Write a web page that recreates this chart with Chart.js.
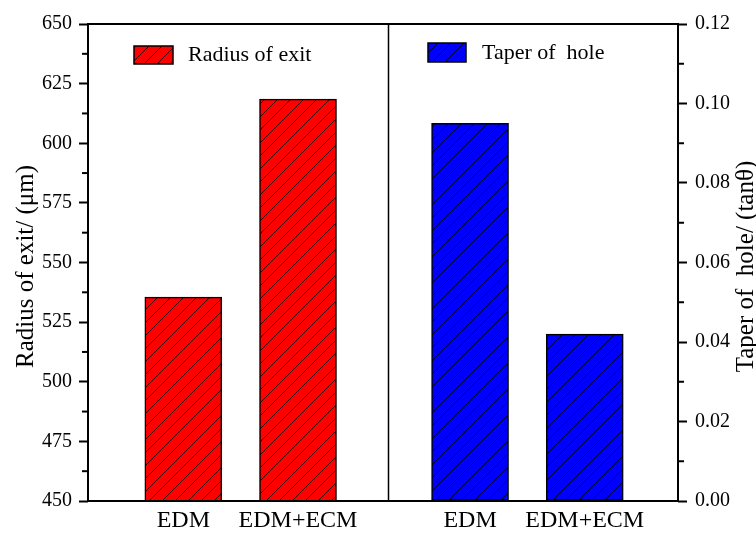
<!DOCTYPE html>
<html>
<head>
<meta charset="utf-8">
<script src="https://cdn.jsdelivr.net/npm/chart.js@4"></script>
<style>
  html, body { margin: 0; padding: 0; background: #fff; }
  #wrap { width: 756px; height: 534px; }
</style>
</head>
<body>
<div id="wrap"><canvas id="c" width="756" height="534"></canvas></div>
<script>
// Machining methods compared in each group
const methods = ['EDM', 'EDM+ECM'];
// Exit radius of the hole, μm
const radiusOfExit = [535.5, 618.5];
// Hole taper, tanθ
const taperOfHole = [0.095, 0.042];
// Axis tick values
const radiusTicks = [450, 475, 500, 525, 550, 575, 600, 625, 650];
const taperTicks = [0, 0.02, 0.04, 0.06, 0.08, 0.10, 0.12];
// Series names and axis titles
const seriesNames = ['Radius of exit', 'Taper of  hole'];
const axisTitles = ['Radius of exit/ (μm)', 'Taper of  hole/ (tanθ)'];

const SERIF = '"Liberation Serif", "Times New Roman", serif';
const INK = '#000';

// x position of bar i inside group g (groups separated by a wider gap)
const slot = (g, i) => 1 + g * 2.5 + i;
const xPositions = [slot(0, 0), slot(0, 1), slot(1, 0), slot(1, 1)];
const xLabels = [...methods, ...methods];
const dividerAt = 2.785;

function hatch(color) {
  const s = 13;
  const c = document.createElement('canvas');
  c.width = s; c.height = s;
  const g = c.getContext('2d');
  g.fillStyle = color;
  g.fillRect(0, 0, s, s);
  g.strokeStyle = 'rgba(0,0,0,0.85)';
  g.lineWidth = 0.9;
  g.beginPath();
  g.moveTo(-1, s + 1); g.lineTo(s + 1, -1);
  g.moveTo(-1, 1); g.lineTo(1, -1);
  g.moveTo(s - 1, s + 1); g.lineTo(s + 1, s - 1);
  g.stroke();
  return g.createPattern(c, 'repeat');
}

const redFill = hatch('#ff0000');
const blueFill = hatch('#0000ff');

// Frame, divider, minor ticks, legend entries and axis titles
const decor = {
  id: 'decor',
  afterDatasetsDraw(chart) {
    const ctx = chart.ctx;
    const a = chart.chartArea;
    const x = chart.scales.x;
    ctx.save();
    ctx.strokeStyle = INK;
    // divider between the two groups
    ctx.lineWidth = 1.5;
    const dx = Math.round(x.getPixelForValue(dividerAt)) + 0.5;
    ctx.beginPath();
    ctx.moveTo(dx, a.top); ctx.lineTo(dx, a.bottom);
    ctx.stroke();
    // frame
    ctx.lineWidth = 2;
    ctx.strokeRect(a.left, a.top, a.right - a.left, a.bottom - a.top);
    // minor ticks halfway between major ticks
    ctx.lineWidth = 2;
    const minor = (scale, vals, side) => {
      for (let i = 0; i < vals.length - 1; i++) {
        const y = scale.getPixelForValue((vals[i] + vals[i + 1]) / 2);
        ctx.beginPath();
        if (side === 'left') { ctx.moveTo(a.left, y); ctx.lineTo(a.left - 6, y); }
        else { ctx.moveTo(a.right, y); ctx.lineTo(a.right + 6, y); }
        ctx.stroke();
      }
    };
    minor(chart.scales.yL, radiusTicks, 'left');
    minor(chart.scales.yR, taperTicks, 'right');

    // legend entries
    const entries = [
      { box: [134, 46, 39, 18], text: [188, 55], ds: 0 },
      { box: [428, 43, 38, 19], text: [482, 53], ds: 1 }
    ];
    ctx.font = '22px ' + SERIF;
    ctx.textBaseline = 'middle';
    ctx.textAlign = 'left';
    entries.forEach(e => {
      const ds = chart.data.datasets[e.ds];
      ctx.fillStyle = ds.backgroundColor;
      ctx.fillRect(e.box[0], e.box[1], e.box[2], e.box[3]);
      ctx.lineWidth = 1.5;
      ctx.strokeStyle = INK;
      ctx.strokeRect(e.box[0], e.box[1], e.box[2], e.box[3]);
      ctx.fillStyle = INK;
      ctx.fillText(ds.label, e.text[0], e.text[1]);
    });

    // axis titles, both read bottom to top
    ctx.font = '25px ' + SERIF;
    ctx.textAlign = 'center';
    const midY = (a.top + a.bottom) / 2 + 4;
    [[26, axisTitles[0]], [746, axisTitles[1]]].forEach(([tx, t]) => {
      ctx.save();
      ctx.translate(tx, midY);
      ctx.rotate(-Math.PI / 2);
      ctx.fillText(t, 0, 0);
      ctx.restore();
    });
    ctx.restore();
  }
};

const tickFont = { family: SERIF, size: 20 };

new Chart(document.getElementById('c'), {
  type: 'bar',
  data: {
    datasets: [
      {
        label: seriesNames[0],
        data: methods.map((m, i) => ({ x: slot(0, i), y: radiusOfExit[i] })),
        yAxisID: 'yL',
        backgroundColor: redFill,
        borderColor: INK,
        borderWidth: 1.5,
        borderSkipped: false,
        barThickness: 77,
        grouped: false
      },
      {
        label: seriesNames[1],
        data: methods.map((m, i) => ({ x: slot(1, i), y: taperOfHole[i] })),
        yAxisID: 'yR',
        backgroundColor: blueFill,
        borderColor: INK,
        borderWidth: 1.5,
        borderSkipped: false,
        barThickness: 77,
        grouped: false
      }
    ]
  },
  options: {
    responsive: false,
    devicePixelRatio: 1,
    animation: false,
    events: [],
    layout: { padding: { top: 24, left: 0, right: 0, bottom: 0 } },
    plugins: { legend: { display: false }, tooltip: { enabled: false } },
    scales: {
      x: {
        type: 'linear',
        offset: false,
        min: 0.169,
        max: 5.313,
        afterBuildTicks: s => { s.ticks = xPositions.map(v => ({ value: v })); },
        afterFit: s => { s.height = 33; },
        ticks: {
          callback: (v, i) => xLabels[i],
          font: { family: SERIF, size: 24 },
          color: INK,
          padding: 5,
          autoSkip: false,
          maxRotation: 0
        },
        grid: { display: false, drawTicks: false, offset: false },
        border: { display: false }
      },
      yL: {
        position: 'left',
        min: radiusTicks[0],
        max: radiusTicks[radiusTicks.length - 1],
        afterBuildTicks: s => { s.ticks = radiusTicks.map(v => ({ value: v })); },
        afterFit: s => { s.width = 88; },
        ticks: { font: tickFont, color: INK, padding: 7 },
        grid: { drawOnChartArea: false, tickLength: 9, tickWidth: 2, tickColor: INK },
        border: { display: false }
      },
      yR: {
        position: 'right',
        min: taperTicks[0],
        max: taperTicks[taperTicks.length - 1],
        afterBuildTicks: s => { s.ticks = taperTicks.map(v => ({ value: v })); },
        afterFit: s => { s.width = 78; },
        ticks: { font: tickFont, color: INK, padding: 8, callback: v => v.toFixed(2) },
        grid: { drawOnChartArea: false, tickLength: 9, tickWidth: 2, tickColor: INK },
        border: { display: false }
      }
    }
  },
  plugins: [decor]
});
</script>
</body>
</html>
